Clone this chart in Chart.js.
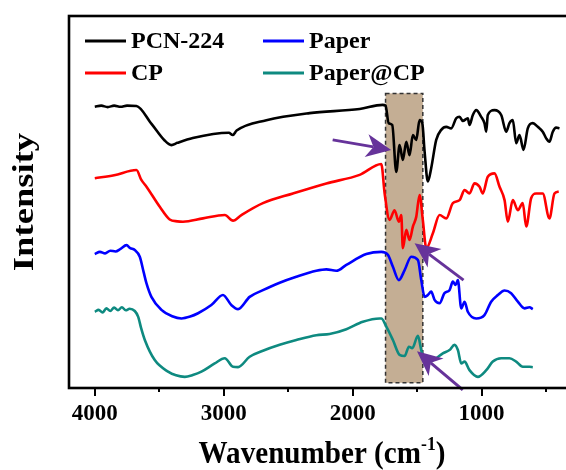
<!DOCTYPE html>
<html>
<head>
<meta charset="utf-8">
<script src="https://cdn.jsdelivr.net/npm/chart.js@4/dist/chart.umd.min.js"></script>
<style>
  html, body { margin: 0; padding: 0; background: #fff; overflow: hidden; }
  #wrap { width: 600px; height: 470px; }
</style>
</head>
<body>
<div id="wrap"><canvas id="c" width="600" height="470"></canvas></div>
<script>
// FTIR spectra (wavenumber in cm-1, intensity in arbitrary offset units)
const pcnWn  = [4000,3950,3900,3850,3800,3750,3677,3560,3460,3406,3360,3240,2960,2930,2900,2669,2334,1946,1768,1745,1721,1693,1662,1636,1611,1584,1559,1533,1507,1481,1460,1442,1417,1391,1352,1313,1274,1236,1197,1171,1146,1107,1094,1068,1042,1003,978,964,952,900,848,809,784,758,732,706,675,642,603,564,526,499,474,448,422,396];
const pcnInt = [75.6,75.9,75.5,75.9,75.6,75.9,75.8,71.0,66.6,65.3,65.9,67.2,68.6,68.0,69.2,72.0,73.9,75.0,76.1,75.9,71.2,70.7,58.1,65.3,61.3,66.2,62.6,68.0,66.7,72.0,71.2,63.5,55.5,59.1,66.7,69.4,70.2,69.8,72.5,72.9,71.8,72.5,70.7,73.4,74.7,72.9,71.2,68.9,73.4,74.7,73.4,68.9,71.2,72.0,65.8,68.0,64.0,69.8,71.2,70.2,68.9,67.1,66.2,68.9,70.0,69.8];

const cpWn  = [4000,3850,3677,3640,3599,3496,3419,3360,3316,3161,2992,2928,2863,2696,2463,2204,1946,1778,1752,1714,1675,1642,1623,1611,1584,1559,1533,1507,1481,1456,1429,1378,1326,1274,1223,1171,1132,1094,1055,1016,991,952,900,861,822,797,758,719,681,654,616,577,526,474,435,402];
const cpInt = [56.4,57.2,58.6,56.0,54.1,48.7,45.3,44.8,44.7,45.6,46.5,45.0,46.5,49.7,52.3,55.0,57.3,60.2,52.3,45.2,47.8,44.7,46.5,37.6,42.5,39.8,43.4,46.0,51.9,45.2,37.6,41.6,46.5,45.6,49.7,50.5,53.2,52.3,55.0,54.1,52.3,56.8,57.7,54.1,50.5,44.7,50.5,47.8,49.7,43.4,51.0,52.3,52.3,45.6,52.3,52.8];

const paperWn  = [4000,3960,3920,3880,3840,3800,3754,3725,3690,3651,3620,3599,3561,3483,3400,3328,3260,3199,3096,3006,2941,2889,2799,2696,2566,2437,2282,2204,2127,2049,1894,1778,1727,1688,1642,1597,1546,1494,1468,1442,1417,1391,1365,1326,1288,1249,1223,1202,1184,1158,1132,1107,1042,978,926,874,822,771,719,667,629,603];
const paperInt = [36.0,36.6,36.2,36.9,36.7,37.4,38.4,37.6,37.1,35.3,31.0,28.1,24.5,21.0,19.3,18.7,19.2,20.1,22.3,25.0,22.3,21.2,24.5,26.3,28.3,29.9,31.5,31.9,31.5,33.1,36.0,36.6,35.8,32.6,29.0,31.7,35.3,34.4,29.0,24.5,25.0,25.9,23.7,22.8,25.5,26.3,28.6,27.7,29.0,21.4,23.2,20.5,18.7,19.6,23.2,25.0,26.2,25.5,23.2,21.4,21.7,21.2];

const paperCpWn  = [4000,3970,3940,3910,3880,3850,3820,3790,3760,3730,3690,3664,3640,3612,3535,3432,3370,3302,3240,3173,3070,2992,2928,2889,2799,2696,2566,2437,2282,2179,2049,1921,1791,1778,1739,1688,1636,1597,1564,1538,1494,1468,1442,1404,1352,1301,1249,1210,1184,1158,1132,1094,1029,964,913,848,784,732,681,629,603];
const paperCpInt = [20.5,21.0,20.3,21.4,20.7,21.6,20.9,21.7,20.9,21.3,20.7,19.2,16.0,12.9,7.5,4.4,3.4,3.0,3.5,4.4,6.6,8.0,5.7,5.6,8.4,10.0,11.6,12.9,14.2,14.5,15.8,17.8,18.7,18.7,16.5,12.9,8.9,8.6,11.1,10.7,14.0,10.2,7.1,7.1,8.0,9.3,10.2,11.6,10.2,6.6,7.1,4.8,3.0,4.8,7.1,8.0,8.0,7.1,5.7,5.7,5.6];

const seriesNames  = ['PCN-224', 'CP', 'Paper', 'Paper@CP'];
const seriesColors = ['#000000', '#ff0000', '#0000ff', '#0e8a80'];

// highlighted band (cm-1) and its vertical extent
const bandWn  = [1745, 1456];
const bandInt = [79.2, 1.4];

// pointer arrows: [tail wn, tail int, tip wn, tip int]
const arrows = [
  [2155, 66.7, 1701, 64.0],
  [1140, 29.0, 1520, 38.9],
  [1146, -0.5, 1501, 9.9]
];

const xTicks = [4000, 3000, 2000, 1000];
const xMinorTicks = [3500, 2500, 1500, 500];

const FONT = "'Liberation Serif', 'Times New Roman', 'DejaVu Serif', serif";

function pts(wn, val) { return wn.map((w, i) => ({ x: w, y: val[i] })); }

const datasets = [
  [pcnWn, pcnInt], [cpWn, cpInt], [paperWn, paperInt], [paperCpWn, paperCpInt]
].map((s, i) => ({
  label: seriesNames[i],
  data: pts(s[0], s[1]),
  borderColor: seriesColors[i],
  borderWidth: 2.6,
  pointRadius: 0,
  cubicInterpolationMode: 'monotone',
  fill: false
}));

// shaded band with dashed outline, behind the spectra
const bandPlugin = {
  id: 'band',
  beforeDatasetsDraw(chart) {
    const { ctx, scales: { x, y } } = chart;
    const x0 = x.getPixelForValue(bandWn[0]), x1 = x.getPixelForValue(bandWn[1]);
    const y0 = y.getPixelForValue(bandInt[0]), y1 = y.getPixelForValue(bandInt[1]);
    ctx.save();
    ctx.fillStyle = '#c4ae94';
    ctx.fillRect(x0, y0, x1 - x0, y1 - y0);
    ctx.setLineDash([4, 3]);
    ctx.lineWidth = 1.5;
    ctx.strokeStyle = '#333';
    ctx.strokeRect(x0, y0, x1 - x0, y1 - y0);
    ctx.restore();
  }
};

// purple arrows, frame, tick marks and axis titles
const overlayPlugin = {
  id: 'overlay',
  afterDatasetsDraw(chart) {
    const { ctx, scales: { x, y } } = chart;
    ctx.save();
    const col = '#66339a';
    arrows.forEach(([tw, ti, hw, hi]) => {
      const x0 = x.getPixelForValue(tw), y0 = y.getPixelForValue(ti);
      const x1 = x.getPixelForValue(hw), y1 = y.getPixelForValue(hi);
      const ang = Math.atan2(y1 - y0, x1 - x0);
      const L = 25, W = 11.5;
      const bx = x1 - L * Math.cos(ang), by = y1 - L * Math.sin(ang);
      const nx = x1 - L * 0.72 * Math.cos(ang), ny = y1 - L * 0.72 * Math.sin(ang);
      ctx.strokeStyle = col;
      ctx.lineWidth = 3;
      ctx.beginPath();
      ctx.moveTo(x0, y0);
      ctx.lineTo(nx, ny);
      ctx.stroke();
      ctx.fillStyle = col;
      ctx.beginPath();
      ctx.moveTo(x1, y1);
      ctx.lineTo(bx - W * Math.sin(ang), by + W * Math.cos(ang));
      ctx.lineTo(nx, ny);
      ctx.lineTo(bx + W * Math.sin(ang), by - W * Math.cos(ang));
      ctx.closePath();
      ctx.fill();
    });
    ctx.restore();
  },
  afterDraw(chart) {
    const { ctx, scales: { x }, chartArea: a } = chart;
    ctx.save();
    ctx.strokeStyle = '#000';
    ctx.lineWidth = 2.6;
    ctx.strokeRect(a.left, a.top, a.right - a.left, a.bottom - a.top);
    ctx.lineWidth = 2;
    xTicks.forEach(v => {
      const px = Math.round(x.getPixelForValue(v));
      ctx.beginPath(); ctx.moveTo(px, a.bottom); ctx.lineTo(px, a.bottom + 8); ctx.stroke();
    });
    xMinorTicks.forEach(v => {
      const px = Math.round(x.getPixelForValue(v));
      ctx.beginPath(); ctx.moveTo(px, a.bottom); ctx.lineTo(px, a.bottom + 4); ctx.stroke();
    });

    ctx.fillStyle = '#000';
    // x-axis title with superscript exponent
    const big = 'bold 28px ' + FONT, small = 'bold 17px ' + FONT;
    const p1 = 'Wavenumber (cm', p2 = '-1', p3 = ')';
    ctx.font = big; const w1 = ctx.measureText(p1).width, w3 = ctx.measureText(p3).width;
    ctx.font = small; const w2 = ctx.measureText(p2).width;
    const sx = 1.04;
    const total = (w1 + w2 + w3) * sx;
    ctx.save();
    ctx.translate(322 - total / 2, 463);
    ctx.scale(sx, 1.15);
    ctx.textBaseline = 'alphabetic';
    ctx.textAlign = 'left';
    ctx.font = big; ctx.fillText(p1, 0, 0);
    ctx.font = small; ctx.fillText(p2, w1, -11);
    ctx.font = big; ctx.fillText(p3, w1 + w2, 0);
    ctx.restore();

    // y-axis title
    ctx.save();
    ctx.translate(25, (a.top + a.bottom) / 2);
    ctx.rotate(-Math.PI / 2);
    ctx.scale(1.22, 1);
    ctx.font = 'bold 30px ' + FONT;
    ctx.textAlign = 'center';
    ctx.textBaseline = 'middle';
    ctx.fillText('Intensity', 0, 0);
    ctx.restore();
    ctx.restore();
  }
};

// two-column legend inside the plot
const legendPlugin = {
  id: 'inlineLegend',
  afterDraw(chart) {
    const { ctx, chartArea: a } = chart;
    const cols = [a.left + 16, a.left + 194];
    const rows = [a.top + 25, a.top + 57];
    const order = [0, 2, 1, 3];
    ctx.save();
    ctx.font = 'bold 24px ' + FONT;
    ctx.textBaseline = 'middle';
    order.forEach((di, k) => {
      const cx = cols[k % 2], cy = rows[Math.floor(k / 2)];
      ctx.strokeStyle = seriesColors[di];
      ctx.lineWidth = 3;
      ctx.beginPath(); ctx.moveTo(cx, cy); ctx.lineTo(cx + 41, cy); ctx.stroke();
      ctx.fillStyle = '#000';
      ctx.fillText(seriesNames[di], cx + 46, cy + 1);
    });
    ctx.restore();
  }
};

new Chart(document.getElementById('c'), {
  type: 'line',
  data: { datasets },
  options: {
    responsive: false,
    animation: false,
    devicePixelRatio: 1,
    layout: { padding: { top: 16, right: 32, bottom: 0, left: 0 } },
    plugins: { legend: { display: false }, tooltip: { enabled: false } },
    scales: {
      x: {
        type: 'linear',
        reverse: true,
        min: 330,
        max: 4200,
        afterFit(s) { s.height = 82; },
        afterBuildTicks(s) { s.ticks = xTicks.map(v => ({ value: v })); },
        grid: { display: false, drawTicks: false },
        border: { display: false },
        ticks: {
          padding: 12,
          color: '#000',
          font: { family: FONT, size: 23, weight: 'bold' },
          callback: v => String(v)
        },
        title: { display: false }
      },
      y: {
        min: 0,
        max: 100,
        afterFit(s) { s.width = 69; },
        grid: { display: false, drawTicks: false },
        border: { display: false },
        ticks: { display: false },
        title: { display: false }
      }
    }
  },
  plugins: [bandPlugin, overlayPlugin, legendPlugin]
});
</script>
</body>
</html>
